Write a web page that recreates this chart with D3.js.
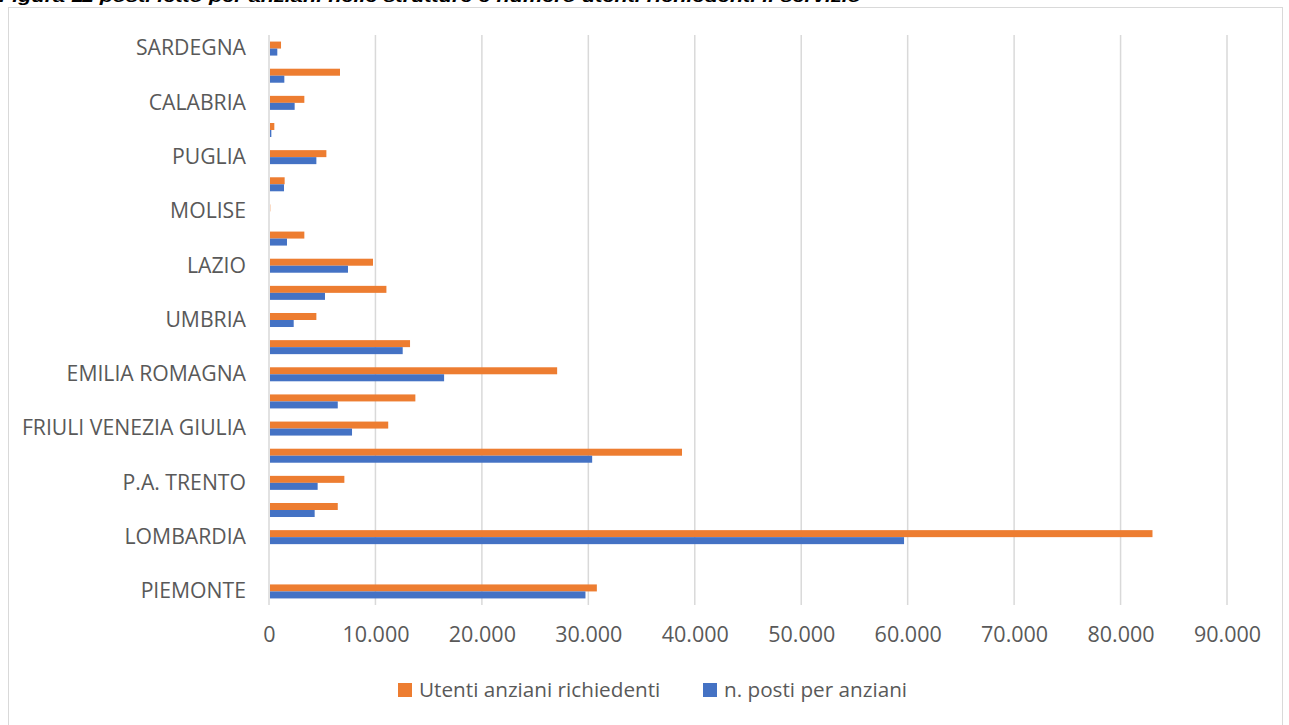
<!DOCTYPE html>
<html>
<head>
<meta charset="utf-8">
<script src="https://d3js.org/d3.v7.min.js"></script>
<style>
  body { margin: 0; background: #fff; }
  svg { display: block; }
</style>
</head>
<body>
<div id="chart"></div>
<script>
// regions, bottom to top as in the chart
const regions = ["PIEMONTE", "VALLE D'AOSTA", "LOMBARDIA", "P.A. BOLZANO", "P.A. TRENTO", "VENETO",
  "FRIULI VENEZIA GIULIA", "LIGURIA", "EMILIA ROMAGNA", "TOSCANA", "UMBRIA", "MARCHE", "LAZIO",
  "ABRUZZO", "MOLISE", "CAMPANIA", "PUGLIA", "BASILICATA", "CALABRIA", "SICILIA", "SARDEGNA"];

const utenti = [30800, 0, 83000, 6460, 7080, 38800, 11200, 13750, 27070, 13250, 4450, 11030, 9770,
  3320, 120, 1470, 5390, 500, 3320, 6670, 1130];

const posti = [29730, 0, 59660, 4290, 4570, 30360, 7800, 6460, 16450, 12560, 2320, 5260, 7420,
  1690, 70, 1410, 4450, 220, 2410, 1440, 780];

const seriesNames = ["Utenti anziani richiedenti", "n. posti per anziani"];
const xTicks = [0, 10000, 20000, 30000, 40000, 50000, 60000, 70000, 80000, 90000];

const colors = ["#ED7D31", "#4472C4"];
const textColor = "#595959";
const font = "'Open Sans', sans-serif";

const W = 1289, H = 725;
const margin = {top: 35, right: 62, bottom: 120, left: 269};
const width = W - margin.left - margin.right,
      height = H - margin.top - margin.bottom;

const svg = d3.select("#chart")
  .append("svg")
    .attr("width", W)
    .attr("height", H);

// outer frame
svg.append("rect")
  .attr("x", 8.5).attr("y", 7.5)
  .attr("width", 1274).attr("height", 740)
  .attr("fill", "none")
  .attr("stroke", "#d9d9d9")
  .attr("stroke-width", 1);

// title, cut off at the top like in the source
svg.append("text")
  .attr("x", -1).attr("y", 1.5)
  .attr("textLength", 862)
  .attr("lengthAdjust", "spacingAndGlyphs")
  .style("font-family", "'Liberation Sans', Arial, sans-serif")
  .style("font-size", "16px")
  .style("font-weight", "bold")
  .style("font-style", "italic")
  .style("fill", "#000")
  .text("Figura 11 posti letto per anziani nelle strutture e numero utenti richiedenti il servizio");

const g = svg.append("g")
  .attr("transform", `translate(${margin.left}, ${margin.top})`);

const x = d3.scaleLinear()
  .domain([0, 90000])
  .range([0, width]);

const y = d3.scaleBand()
  .domain(regions)
  .range([height, 0])
  .paddingInner(0.484)
  .paddingOuter(0.242);

const ySub = d3.scaleBand()
  .domain([0, 1])
  .range([0, y.bandwidth()]);

// gridlines
g.append("g")
  .selectAll("line")
  .data(xTicks)
  .join("line")
    .attr("x1", d => x(d))
    .attr("x2", d => x(d))
    .attr("y1", 0)
    .attr("y2", height)
    .style("stroke", "#d9d9d9")
    .style("stroke-width", 1.5);

// x axis labels
const xAxis = g.append("g")
  .attr("transform", `translate(0, ${height})`)
  .call(d3.axisBottom(x)
    .tickValues(xTicks)
    .tickSize(0)
    .tickPadding(22)
    .tickFormat(d => d === 0 ? "0" : d3.format(",")(d).replace(/,/g, ".")));
xAxis.select(".domain").remove();
xAxis.selectAll("text")
  .style("font-family", font)
  .style("font-size", "21.5px")
  .style("fill", textColor);

// y axis labels, only every other one is shown
const yAxis = g.append("g")
  .attr("transform", "translate(-23, 0)")
  .call(d3.axisLeft(y)
    .tickValues(regions.filter((d, i) => i % 2 === 0))
    .tickSize(0)
    .tickPadding(0));
yAxis.select(".domain").remove();
yAxis.selectAll("text")
  .style("font-family", font)
  .style("font-size", "21.2px")
  .style("fill", textColor);

// bars
const rows = regions.map((r, i) => ({region: r, values: [utenti[i], posti[i]]}));

g.append("g")
  .selectAll("g")
  .data(rows)
  .join("g")
    .attr("transform", d => `translate(0, ${y(d.region)})`)
  .selectAll("rect")
  .data(d => d.values.map((v, k) => ({k: k, v: v})))
  .join("rect")
    .attr("x", x(0) + 1)
    .attr("y", d => ySub(d.k))
    .attr("width", d => Math.max(0, x(d.v) - x(0) - 1))
    .attr("height", ySub.bandwidth())
    .style("fill", d => colors[d.k]);

// legend
const legendX = [398, 703];
const legend = svg.append("g")
  .selectAll("g")
  .data(seriesNames)
  .join("g")
    .attr("transform", (d, i) => `translate(${legendX[i]}, 690)`);

legend.append("rect")
  .attr("x", 0).attr("y", -7)
  .attr("width", 14).attr("height", 14)
  .style("fill", (d, i) => colors[i]);

legend.append("text")
  .attr("x", 21).attr("y", 0)
  .attr("dy", "0.35em")
  .style("font-family", font)
  .style("font-size", "20.7px")
  .style("fill", textColor)
  .text(d => d);
</script>
</body>
</html>
